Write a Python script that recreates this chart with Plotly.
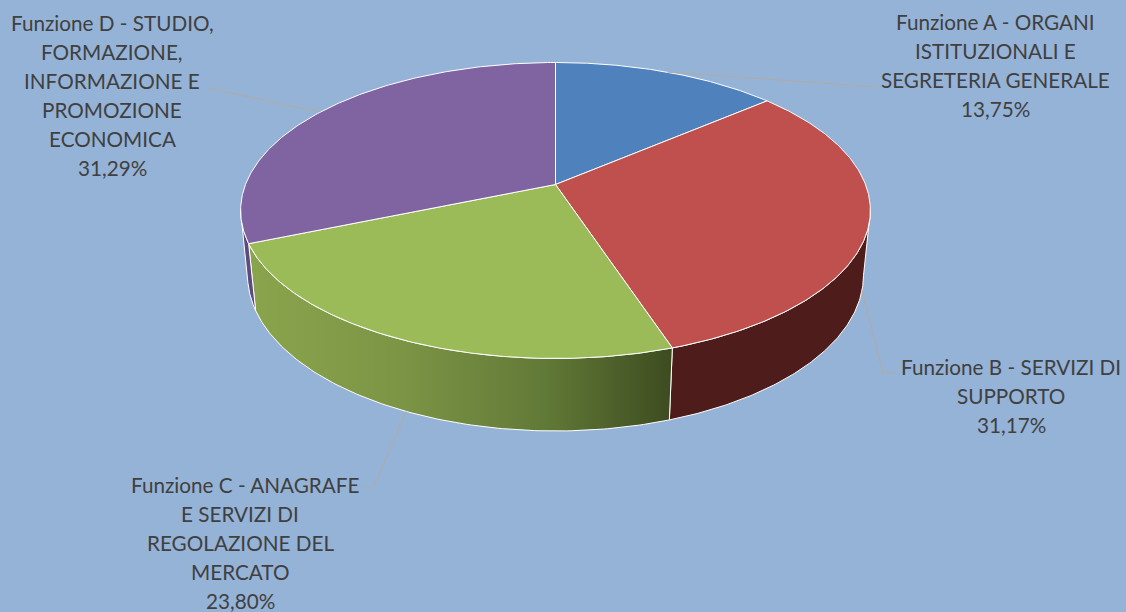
import numpy as np
import plotly.graph_objects as go

# ---- data -------------------------------------------------------------
categories = [
    "Funzione A - ORGANI ISTITUZIONALI E SEGRETERIA GENERALE",
    "Funzione B - SERVIZI DI SUPPORTO",
    "Funzione C - ANAGRAFE E SERVIZI DI REGOLAZIONE DEL MERCATO",
    "Funzione D - STUDIO, FORMAZIONE, INFORMAZIONE E PROMOZIONE ECONOMICA",
]
values = [13.75, 31.17, 23.80, 31.29]

# wrapped label lines (category text), percentage appended below
label_lines = [
    ["Funzione A - ORGANI", "ISTITUZIONALI E", "SEGRETERIA GENERALE"],
    ["Funzione B - SERVIZI DI", "SUPPORTO"],
    ["Funzione C - ANAGRAFE", "E SERVIZI DI", "REGOLAZIONE DEL", "MERCATO"],
    ["Funzione D - STUDIO,", "FORMAZIONE,", "INFORMAZIONE E", "PROMOZIONE", "ECONOMICA"],
]

# ---- styling ------------------------------------------------------------
top_colors = ["#4F81BD", "#C0504D", "#9BBB59", "#8064A2"]
side_fill = {
    1: dict(fillcolor="#4E1C1B"),
    2: dict(fillgradient=dict(type="horizontal", start=240, stop=672,
                              colorscale=[[0.0, "#8BA54D"], [0.35, "#7D9646"],
                                          [0.7, "#627A37"], [1.0, "#3D4C20"]])),
    3: dict(fillcolor="#5E4A7E"),
}
BG = "#95B3D7"
TEXT = "#404040"
LEADER = "#B1ABA0"
FONT = "Lato"
FSIZE = 20.7
LINE_H = 29

W, H = 1126, 612

# ---- 3D pie projection --------------------------------------------------
CX, CY = 555.5, 184.5      # projected pie centre (pixels)
S = 310.0                  # radius scale
TILT = np.radians(27.56)   # elevation of view
DIST = 5.05                # camera distance (in radii)
DEPTH = 0.237              # pie thickness (in radii)


def proj(theta_deg, r=1.0, z=0.0):
    t = np.radians(np.asarray(theta_deg, dtype=float))
    x = r * np.sin(t)
    f = r * np.cos(t)
    up = f * np.sin(TILT) + z * np.cos(TILT)
    dep = f * np.cos(TILT) - z * np.sin(TILT)
    sc = DIST / (DIST + dep)
    return CX + S * x * sc, CY - S * up * sc


fractions = np.array(values) / np.sum(values)
bounds = np.concatenate([[0.0], np.cumsum(fractions) * 360.0])

# visible front wall spans between the silhouette angles
k = np.cos(TILT) / DIST
th_right = np.degrees(np.arccos(-k))
th_left = 360.0 - th_right

fig = go.Figure()

# side walls
for i in range(len(values)):
    a, b = max(bounds[i], th_right), min(bounds[i + 1], th_left)
    if b <= a:
        continue
    ts = np.linspace(a, b, 120)
    xt, yt = proj(ts, 1.0, 0.0)
    xb, yb = proj(ts[::-1], 1.0, -DEPTH)
    xs = np.concatenate([xt, xb, xt[:1]])
    ys = np.concatenate([yt, yb, yt[:1]])
    fig.add_trace(go.Scatter(x=xs, y=ys, mode="lines", fill="toself",
                             line=dict(color="white", width=1),
                             hoverinfo="skip", showlegend=False,
                             **side_fill[i]))

# top faces
for i in range(len(values)):
    ts = np.linspace(bounds[i], bounds[i + 1], 200)
    xa, ya = proj(ts)
    xs = np.concatenate([[CX], xa, [CX]])
    ys = np.concatenate([[CY], ya, [CY]])
    fig.add_trace(go.Scatter(x=xs, y=ys, mode="lines", fill="toself",
                             fillcolor=top_colors[i],
                             line=dict(color="white", width=1),
                             name=categories[i], hoverinfo="name",
                             showlegend=False))

# ---- labels & leader lines ---------------------------------------------
# label block: centre x, first-line y, leader end points
label_layout = [
    dict(cx=995, y0=22, elbow=[(878, 87)]),
    dict(cx=1011, y0=367, elbow=[(883, 373), (895, 373)]),
    dict(cx=240, y0=485, elbow=[(374, 486), (363, 486)], first_cx=245),
    dict(cx=112, y0=23, elbow=[(207, 88)]),
]

for i, lay in enumerate(label_layout):
    mid = (bounds[i] + bounds[i + 1]) / 2.0
    front = th_right < mid < th_left
    sx, sy = proj(mid, 1.0, -DEPTH if front else 0.0)
    lx = [float(sx)] + [p[0] for p in lay["elbow"]]
    ly = [float(sy)] + [p[1] for p in lay["elbow"]]
    fig.add_trace(go.Scatter(x=lx, y=ly, mode="lines",
                             line=dict(color=LEADER, width=1),
                             hoverinfo="skip", showlegend=False))

    pct = f"{values[i]:.2f}".replace(".", ",") + "%"
    lines = label_lines[i] + [pct]
    for j, txt in enumerate(lines):
        cx = lay.get("first_cx", lay["cx"]) if j == 0 else lay["cx"]
        fig.add_annotation(x=cx, y=lay["y0"] + j * LINE_H, text=txt,
                           showarrow=False, xanchor="center", yanchor="middle",
                           font=dict(family=FONT, size=FSIZE, color=TEXT))

fig.update_layout(
    width=W, height=H,
    margin=dict(l=0, r=0, t=0, b=0),
    paper_bgcolor=BG, plot_bgcolor=BG,
    xaxis=dict(range=[0, W], visible=False, fixedrange=True),
    yaxis=dict(range=[H, 0], visible=False, fixedrange=True),
    showlegend=False,
)

fig.write_html("out.html")
